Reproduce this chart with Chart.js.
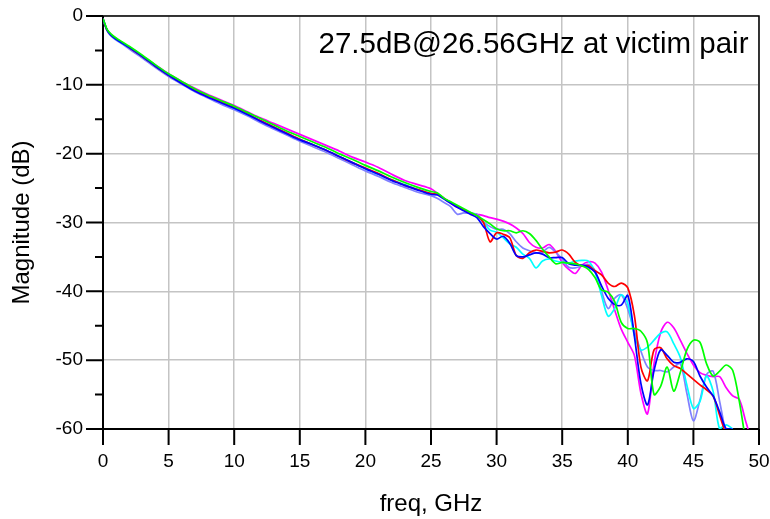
<!DOCTYPE html>
<html>
<head>
<meta charset="utf-8">
<script src="https://cdn.jsdelivr.net/npm/chart.js"></script>
<style>
  html, body { margin: 0; padding: 0; background: #fff; }
  #wrap { width: 770px; height: 519px; position: relative; }
</style>
</head>
<body>
<div id="wrap"><canvas id="lossChart"></canvas></div>
<script>
// === DATA ===
const freq = [0, 0.1, 0.3, 0.6, 1, 1.5, 2, 3, 4, 5, 6, 7, 8, 9, 10, 11, 12, 13, 14, 15,
  16, 17, 18, 19, 20, 21, 22, 23, 24, 25,
  25.5, 26, 26.5, 27, 27.5, 28, 28.5, 29, 29.5, 30,
  30.5, 31, 31.5, 32, 32.5, 33, 33.5, 34, 34.5, 35,
  35.5, 36, 36.5, 37, 37.5, 38, 38.5, 39, 39.5, 40,
  40.5, 41, 41.5, 42, 42.5, 43, 43.5, 44, 44.5, 45,
  45.5, 46, 46.5, 47, 47.5, 48, 48.5, 49, 49.5, 50];

const redDb = [-0.4, -1.0, -2.0, -2.7, -3.3, -3.9, -4.6, -5.9, -7.3, -8.6, -9.7, -10.8, -11.7, -12.5, -13.3, -14.2, -15.2, -16.1, -17.0, -17.9,
  -18.7, -19.5, -20.4, -21.3, -22.1, -22.9, -23.8, -24.6, -25.2, -25.8,
  -25.9, -26.5, -27.1, -27.7, -28.2, -28.7, -29.0, -30.0, -32.8, -31.5,
  -31.7, -32.2, -34.8, -35.2, -34.4, -34.0, -34.2, -34.4, -34.3, -34.0,
  -34.6, -35.8, -36.3, -36.3, -37.0, -37.6, -38.8, -39.3, -38.8, -39.5,
  -43.5, -51.0, -53.0, -48.5, -48.2, -49.8, -50.8, -51.2, -52.0, -52.8,
  -53.6, -54.3, -55.2, -58.0, -61, null, null, null, null, null];

const blueDb = [-0.4, -1.0, -2.0, -2.8, -3.4, -4.0, -4.6, -5.9, -7.3, -8.6, -9.8, -10.9, -11.8, -12.6, -13.4, -14.3, -15.3, -16.2, -17.1, -18.0,
  -18.7, -19.5, -20.4, -21.3, -22.2, -23.0, -23.9, -24.6, -25.3, -25.9,
  -26.0, -26.6, -27.2, -27.8, -28.3, -28.8, -29.3, -30.6, -31.6, -32.4,
  -32.0, -33.0, -34.8, -35.0, -34.7, -34.4, -34.6, -35.1, -35.1, -35.1,
  -36.0, -36.2, -36.2, -36.5, -37.2, -39.2, -41.0, -41.9, -42.0, -40.6,
  -46.5, -53.4, -56.5, -51.5, -48.5, -49.3, -50.3, -50.3, -49.8, -50.2,
  -52.3, -53.9, -55.2, -57.5, -60, -60, null, null, null, null];

const magentaDb = [-0.4, -1.0, -2.0, -2.7, -3.3, -3.9, -4.5, -5.8, -7.1, -8.4, -9.5, -10.5, -11.4, -12.2, -13.0, -13.9, -14.8, -15.6, -16.4, -17.2,
  -18.0, -18.8, -19.6, -20.5, -21.2, -22.0, -23.0, -23.9, -24.5, -25.1,
  -25.8, -26.5, -27.2, -27.8, -28.2, -28.6, -28.8, -29.0, -29.3, -29.5,
  -29.8, -30.2, -30.8, -31.6, -32.9, -33.6, -33.7, -33.2, -34.2, -35.8,
  -36.8, -37.4, -36.2, -35.7, -35.9, -37.2, -39.8, -42.7, -45.5, -47.4,
  -49.3, -54.8, -57.8, -50.5, -46.0, -44.5, -45.3, -47.1, -49.0, -50.7,
  -51.8, -52.2, -52.4, -52.4, -54.0, -55.2, -55.7, -59.0, -62, null];

const cyanDb = [-0.4, -1.0, -2.0, -2.8, -3.4, -4.0, -4.6, -5.9, -7.3, -8.6, -9.7, -10.8, -11.7, -12.5, -13.4, -14.3, -15.2, -16.1, -17.0, -17.9,
  -18.7, -19.5, -20.4, -21.3, -22.2, -23.0, -23.8, -24.5, -25.2, -25.8,
  -25.9, -26.5, -27.1, -27.7, -28.2, -28.6, -29.0, -30.0, -31.1, -31.4,
  -32.2, -33.1, -33.6, -34.6, -35.2, -36.6, -35.6, -35.3, -35.6, -35.8,
  -35.9, -35.6, -35.5, -35.6, -37.2, -40.6, -43.6, -42.5, -40.5, -41.8,
  -46.4, -48.5, -48.1, -47.1, -46.1, -45.9, -47.6, -49.6, -53.6, -57.0,
  -56.0, -52.3, -54.5, -60, -59.4, -60, null, null, null, null];

const greenDb = [-0.4, -0.9, -1.9, -2.6, -3.2, -3.8, -4.4, -5.7, -7.1, -8.4, -9.5, -10.6, -11.5, -12.3, -13.1, -14.0, -14.9, -15.8, -16.7, -17.5,
  -18.3, -19.1, -20.0, -20.8, -21.7, -22.5, -23.4, -24.2, -24.9, -25.5,
  -25.7, -26.5, -27.0, -27.5, -28.0, -28.5, -29.0, -29.6, -30.2, -30.9,
  -31.2, -31.2, -31.5, -31.2, -31.6, -32.6, -33.9, -35.0, -36.0, -35.8,
  -35.9, -36.0, -36.3, -36.8, -38.0, -39.8, -40.1, -41.5, -44.5, -45.4,
  -45.4, -45.8, -47.5, -55.0, -53.8, -51.0, -54.5, -51.8, -48.5, -47.1,
  -47.4, -50.5, -52.3, -51.6, -50.7, -51.5, -56.0, -62, null, null];

const purpleDb = [-0.4, -1.0, -2.1, -2.9, -3.5, -4.1, -4.8, -6.1, -7.5, -8.8, -9.9, -11.0, -11.9, -12.8, -13.6, -14.5, -15.5, -16.4, -17.3, -18.2,
  -19.0, -19.8, -20.7, -21.6, -22.5, -23.3, -24.2, -24.9, -25.6, -26.1,
  -26.5, -27.1, -27.7, -28.8, -28.6, -28.7, -28.8, -29.9, -30.6, -31.0,
  -31.0, -31.6, -32.8, -33.7, -34.1, -34.4, -34.3, -33.6, -34.3, -35.3,
  -36.5, -36.6, -36.3, -36.1, -37.0, -40.0, -42.5, -41.0, -40.5, -42.6,
  -45.8, -48.7, -51.0, -51.5, -51.5, -51.7, -51.0, -50.5, -54.8, -58.8,
  -55.8, -52.1, -51.6, -56.0, -61, null, null, null, null, null];

const xTickStep = 5;
const yTickStep = 5;
const annotation = '27.5dB@26.56GHz at victim pair';

const FONT = "'Liberation Sans', Arial, sans-serif";

function toPoints(vals) {
  return freq.map((f, i) => ({ x: f, y: vals[i] })).filter(p => p.y !== null);
}

function series(vals, color) {
  return {
    data: toPoints(vals),
    borderColor: color,
    backgroundColor: color,
    borderWidth: 1.7,
    pointRadius: 0,
    tension: 0.3,
    fill: false
  };
}

// frame, tick marks and the annotation text
const framePlugin = {
  id: 'frame',
  beforeDatasetsDraw(chart) {
    const { ctx, chartArea: a, scales: { x, y } } = chart;
    ctx.save();
    ctx.strokeStyle = '#000';
    ctx.lineWidth = 2;
    ctx.beginPath();
    x.ticks.forEach(t => {
      const px = x.getPixelForValue(t.value);
      ctx.moveTo(px, a.bottom);
      ctx.lineTo(px, a.bottom + 16);
    });
    y.ticks.forEach(t => {
      const py = y.getPixelForValue(t.value);
      const len = t.value % 10 === 0 ? 17 : 8;
      ctx.moveTo(a.left - len, py);
      ctx.lineTo(a.left, py);
    });
    ctx.moveTo(a.left, a.top);
    ctx.lineTo(a.left, a.bottom);
    ctx.lineTo(a.right, a.bottom);
    ctx.stroke();
    ctx.lineWidth = 1.5;
    ctx.beginPath();
    ctx.moveTo(a.left, a.top);
    ctx.lineTo(a.right, a.top);
    ctx.lineTo(a.right, a.bottom);
    ctx.stroke();
    ctx.restore();
  },
  afterDraw(chart) {
    const { ctx, chartArea: a } = chart;
    ctx.save();
    ctx.fillStyle = '#000';
    ctx.font = '29.5px ' + FONT;
    ctx.textAlign = 'right';
    ctx.textBaseline = 'alphabetic';
    ctx.fillText(annotation, a.right - 10.5, a.top + 37.3);
    ctx.restore();
  }
};

document.addEventListener('DOMContentLoaded', () => {
  const el = document.getElementById('lossChart');
  new Chart(el.getContext('2d'), {
    type: 'line',
    data: {
      datasets: [
        series(greenDb, '#00ff00'),
        series(blueDb, '#0000ff'),
        series(redDb, '#ff0000'),
        series(cyanDb, '#00ffff'),
        series(purpleDb, '#8080ff'),
        series(magentaDb, '#ff00ff')
      ]
    },
    options: {
      responsive: true,
      maintainAspectRatio: false,
      animation: false,
      layout: { padding: { top: 16, right: 11, left: 0, bottom: 0 } },
      plugins: { legend: { display: false }, tooltip: { enabled: false } },
      scales: {
        x: {
          type: 'linear',
          min: 0,
          max: 50,
          afterFit: s => { s.height = 90; },
          border: { display: false },
          grid: { color: '#c4c4c4', lineWidth: 1.5, drawTicks: true, tickLength: 21, tickColor: 'rgba(0,0,0,0)' },
          ticks: {
            stepSize: xTickStep,
            autoSkip: false,
            maxRotation: 0,
            padding: 0,
            color: '#000',
            font: { family: FONT, size: 19 },
            callback: v => String(v)
          },
          title: {
            display: true,
            text: 'freq, GHz',
            color: '#000',
            font: { family: FONT, size: 24 },
            padding: { top: 0, bottom: 0 }
          }
        },
        y: {
          min: -60,
          max: 0,
          afterFit: s => { s.width = 103; },
          border: { display: false },
          grid: {
            color: c => (c.tick && c.tick.value % 10 === 0) ? '#c4c4c4' : 'rgba(0,0,0,0)',
            lineWidth: 1.5,
            drawTicks: true,
            tickLength: 20,
            tickColor: 'rgba(0,0,0,0)'
          },
          ticks: {
            stepSize: yTickStep,
            autoSkip: false,
            padding: 0,
            color: '#000',
            font: { family: FONT, size: 19 },
            callback: v => (v % 10 === 0 ? String(v) : '')
          },
          title: {
            display: true,
            text: 'Magnitude (dB)',
            color: '#000',
            font: { family: FONT, size: 24 },
            padding: { top: 8, bottom: 0 }
          }
        }
      }
    },
    plugins: [framePlugin]
  });
});
</script>
</body>
</html>
